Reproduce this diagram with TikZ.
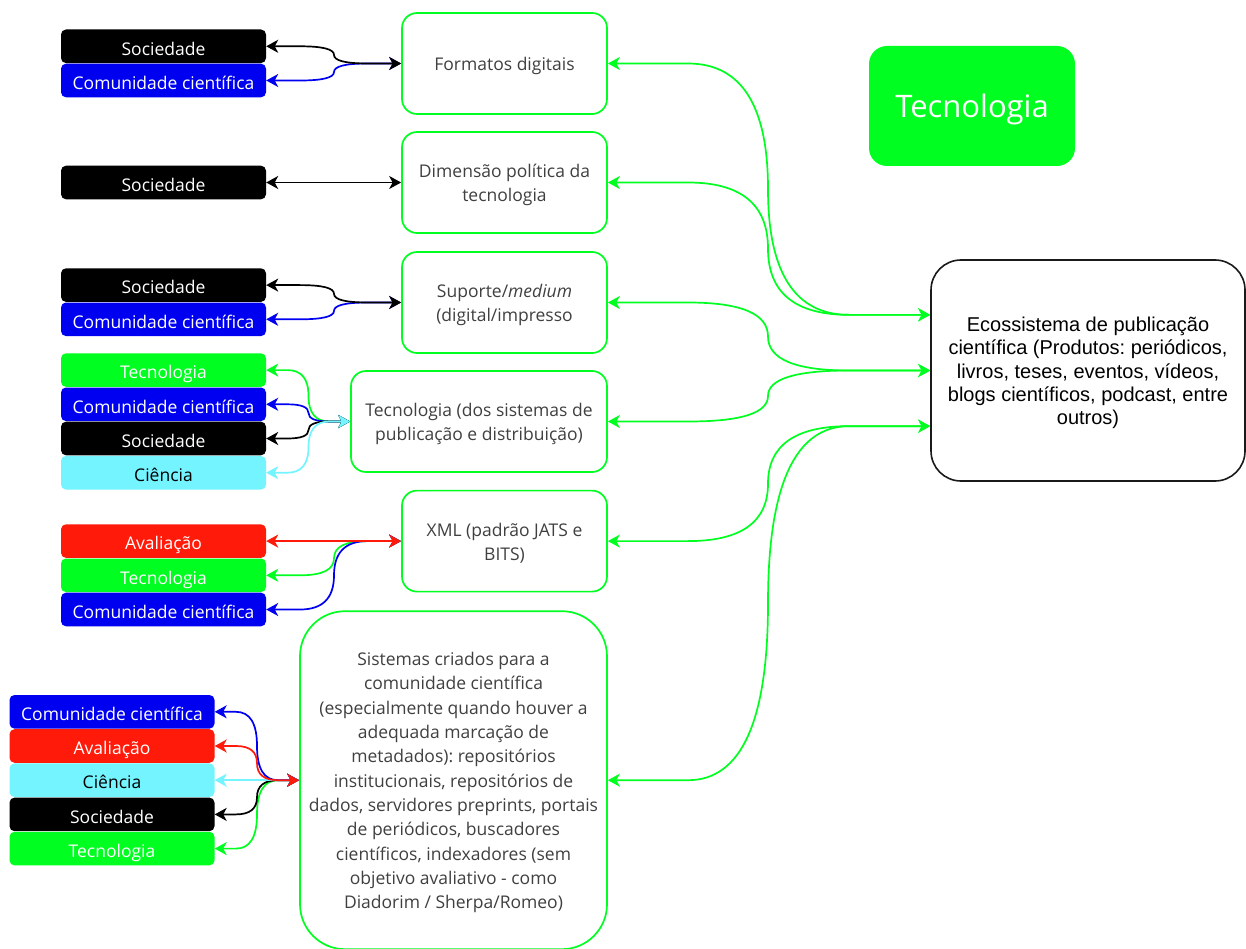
\documentclass[tikz,border=0pt]{standalone}
\usepackage{fontspec}
\usetikzlibrary{arrows.meta,calc}
\frenchspacing
\newfontfamily\osans{Open Sans}
\newfontfamily\lsans{Liberation Sans}
\definecolor{gr}{HTML}{00FF21}
\definecolor{bl}{HTML}{0000F0}
\definecolor{rd}{HTML}{FF1A0A}
\definecolor{cy}{HTML}{73F4FF}
\definecolor{tg}{HTML}{404040}
\definecolor{ek}{HTML}{1A1A1A}
\newcommand{\tup}[1]{\rule{0pt}{#1pt}}
\newcommand{\ocurve}[4]{%
  \draw[#1] (#2) let \p1=(#2), \p2=(#3), \p3=(#4) in
    -- ({(\x1+\x3)/2},\y1)
    .. controls ({\x1/6+5*\x3/6},\y1) and (\x3,{5*\y1/6+\y2/6}) .. (\x3,{(\y1+\y2)/2})
    .. controls (\x3,{\y1/6+5*\y2/6}) and ({5*\x3/6+\x2/6},\y2) .. ({(\x3+\x2)/2},\y2)
    -- (#3);}
\tikzset{
  lbox/.style={rectangle, rounded corners=5pt, minimum width=205pt, minimum height=33.6pt,
    inner sep=0pt, text=white, font=\osans\fontsize{17.5}{22}\selectfont,
    text height=17.5pt, text depth=0pt},
  mbox/.style={rectangle, rounded corners=15pt, draw=gr, line width=1.7pt, fill=white,
    minimum width=205pt, minimum height=101pt, inner sep=4pt, align=center, text=tg,
    font=\osans\fontsize{17.5}{24.3}\selectfont},
  conn/.style={line width=1.7pt,
    {Stealth[length=12pt,width=13pt,inset=3.5pt]}-{Stealth[length=12pt,width=13pt,inset=3.5pt]}},
}
\begin{document}
\begin{tikzpicture}[x=1pt,y=-1pt]
\useasboundingbox (0,0) rectangle (1246,949);
\fill[white] (0,0) rectangle (1246,949);

% knee lines
\coordinate (kL) at (334,0);
\coordinate (kT) at (308.5,0);
\coordinate (kB) at (257,0);
\coordinate (kR) at (768,0);

% middle boxes
\node[mbox] (fmt) at (504.5,63.5) {\tup{18}Formatos digitais};
\node[mbox] (dim) at (504.5,182.5) {\tup{18}Dimensão política da\\tecnologia};
\node[mbox] (sup) at (504.5,302.5) {\tup{18}Suporte/\textit{medium}\\(digital/impresso};
\node[mbox, minimum width=256pt] (tsis) at (479,421.5) {\tup{18}Tecnologia (dos sistemas de\\publicação e distribuição)};
\node[mbox] (xml) at (504.5,541.1) {\tup{18}XML (padrão JATS e\\BITS)};
\node[mbox, minimum width=307pt, minimum height=338pt, rounded corners=45pt] (sis) at (453.5,780.2)
  {\tup{18}Sistemas criados para a\\comunidade científica\\(especialmente quando houver a\\adequada marcação de\\metadados): repositórios\\institucionais, repositórios de\\dados, servidores preprints, portais\\de periódicos, buscadores\\científicos, indexadores (sem\\objetivo avaliativo - como\\Diadorim / Sherpa/Romeo)};

% title and ecosystem
\node[rectangle, rounded corners=18pt, fill=gr, minimum width=206pt, minimum height=120pt,
  text=white, font=\osans\fontsize{31}{36}\selectfont] (tec) at (972,106) {\tup{29.5}Tecnologia};
\node[rectangle, rounded corners=30pt, draw=ek, line width=1.6pt, fill=white,
  minimum width=314pt, minimum height=221pt, align=center, text=black,
  font=\lsans\fontsize{20}{23.3}\selectfont] (eco) at (1088,370.5)
  {\tup{19.5}Ecossistema de publicação\\científica (Produtos: periódicos,\\livros, teses, eventos, vídeos,\\blogs científicos, podcast, entre\\outros)};
\coordinate (e1) at ($(eco.north west)!0.25!(eco.south west)$);
\coordinate (e2) at ($(eco.north west)!0.5!(eco.south west)$);
\coordinate (e3) at ($(eco.north west)!0.75!(eco.south west)$);

% left boxes
\node[lbox, fill=black] (soc1) at (163.5,46.3) {Sociedade};
\node[lbox, fill=bl] (com1) at (163.5,80.5) {Comunidade científica};
\node[lbox, fill=black] (soc2) at (163.5,182.5) {Sociedade};
\node[lbox, fill=black] (soc3) at (163.5,285.1) {Sociedade};
\node[lbox, fill=bl] (com3) at (163.5,319.3) {Comunidade científica};
\node[lbox, fill=gr] (tec4) at (163.5,370.1) {Tecnologia};
\node[lbox, fill=bl] (com4) at (163.5,404.3) {Comunidade científica};
\node[lbox, fill=black] (soc4) at (163.5,438.5) {Sociedade};
\node[lbox, fill=cy, text=black] (cie4) at (163.5,472.7) {Ciência};
\node[lbox, fill=rd] (ava5) at (163.5,541.1) {Avaliação};
\node[lbox, fill=gr] (tec5) at (163.5,575.3) {Tecnologia};
\node[lbox, fill=bl] (com5) at (163.5,609.5) {Comunidade científica};
\node[lbox, fill=bl] (com6) at (112,711.8) {Comunidade científica};
\node[lbox, fill=rd] (ava6) at (112,746) {Avaliação};
\node[lbox, fill=cy, text=black] (cie6) at (112,780.2) {Ciência};
\node[lbox, fill=black] (soc6) at (112,814.4) {Sociedade};
\node[lbox, fill=gr] (tec6) at (112,848.6) {Tecnologia};

% left connectors
\ocurve{conn,bl}{com1.east}{fmt.west}{kL}
\ocurve{conn,black}{soc1.east}{fmt.west}{kL}
\draw[conn,black] (soc2.east) -- (dim.west);
\ocurve{conn,bl}{com3.east}{sup.west}{kL}
\ocurve{conn,black}{soc3.east}{sup.west}{kL}
\ocurve{conn,gr}{tec4.east}{tsis.west}{kT}
\ocurve{conn,bl}{com4.east}{tsis.west}{kT}
\ocurve{conn,black}{soc4.east}{tsis.west}{kT}
\ocurve{conn,cy}{cie4.east}{tsis.west}{kT}
\ocurve{conn,gr}{tec5.east}{xml.west}{kL}
\ocurve{conn,bl}{com5.east}{xml.west}{kL}
\draw[conn,rd] (ava5.east) -- (xml.west);
\ocurve{conn,gr}{tec6.east}{sis.west}{kB}
\ocurve{conn,black}{soc6.east}{sis.west}{kB}
\draw[conn,cy] (cie6.east) -- (sis.west);
\ocurve{conn,bl}{com6.east}{sis.west}{kB}
\ocurve{conn,rd}{ava6.east}{sis.west}{kB}

% right connectors
\ocurve{conn,gr}{fmt.east}{e1}{kR}
\ocurve{conn,gr}{dim.east}{e1}{kR}
\ocurve{conn,gr}{sup.east}{e2}{kR}
\ocurve{conn,gr}{tsis.east}{e2}{kR}
\ocurve{conn,gr}{xml.east}{e3}{kR}
\ocurve{conn,gr}{sis.east}{e3}{kR}
\end{tikzpicture}
\end{document}
